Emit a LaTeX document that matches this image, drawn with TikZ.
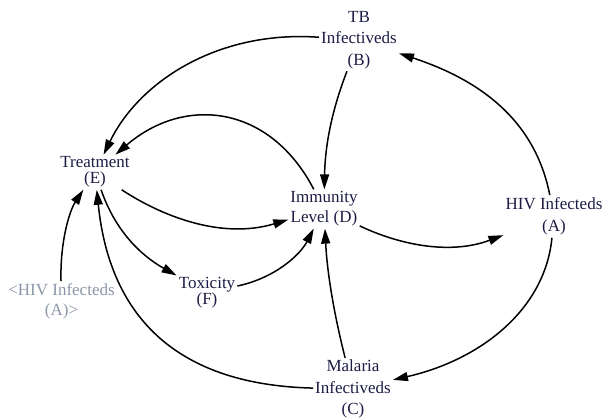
\documentclass[tikz,border=0pt]{standalone}
\usepackage{fontspec}
\setmainfont{Liberation Serif}
\usetikzlibrary{arrows.meta}
\definecolor{txt}{RGB}{28,28,68}
\definecolor{ghost}{RGB}{140,150,168}
\begin{document}
\begin{tikzpicture}[x=1pt,y=-1pt,
  var/.style={font={\fontsize{17}{#1}\selectfont\lineskiplimit=-20pt}, text=txt, align=center, inner sep=2pt},
  var/.default=21,
  shadow/.style={var=#1, text=ghost},
  conn/.style={line width=1.5pt, -{Triangle[length=15pt,width=9pt]}}]
\useasboundingbox (0,0) rectangle (603,420);
\node[var=21.5] (B) at (359,40.2) {TB\\Infectiveds\\(B)};
\node[var=20] (D) at (324,209) {Immunity\\Level (D)};
\node[var=21.2] (C) at (353,389) {Malaria\\Infectiveds\\(C)};
\node[var=22.7] (A) at (554,216.4) {HIV Infecteds\\(A)};
\node[shadow=20] (G) at (61.5,301) {<HIV Infecteds\\(A)>};
\node[var=16.5] (F) at (207,292.5) {Toxicity\\(F)};
\node[var=16] (E) at (95,172.2) {Treatment\\(E)};

\draw[conn] (B) .. controls (220,30) and (140,80) .. (E);
\draw[conn] (D) .. controls (270,105) and (185,95) .. (E);
\draw[conn] (B) .. controls (330,115) and (325,150) .. (D);
\draw[conn] (A) .. controls (535,120) and (480,80) .. (B);
\draw[conn] (E) .. controls (160,215) and (220,240) .. (D);
\draw[conn] (D) .. controls (400,245) and (450,255) .. (A);
\draw[conn] (A) .. controls (545,310) and (480,360) .. (C);
\draw[conn] (C) .. controls (333,310) and (327,270) .. (D);
\draw[conn] (F) .. controls (275,278) and (300,255) .. (D);
\draw[conn] (E) .. controls (115,230) and (140,255) .. (F);
\draw[conn] (C) .. controls (180,385) and (110,320) .. (E);
\draw[conn] (G) .. controls (60,240) and (70,210) .. (E);
\end{tikzpicture}
\end{document}
